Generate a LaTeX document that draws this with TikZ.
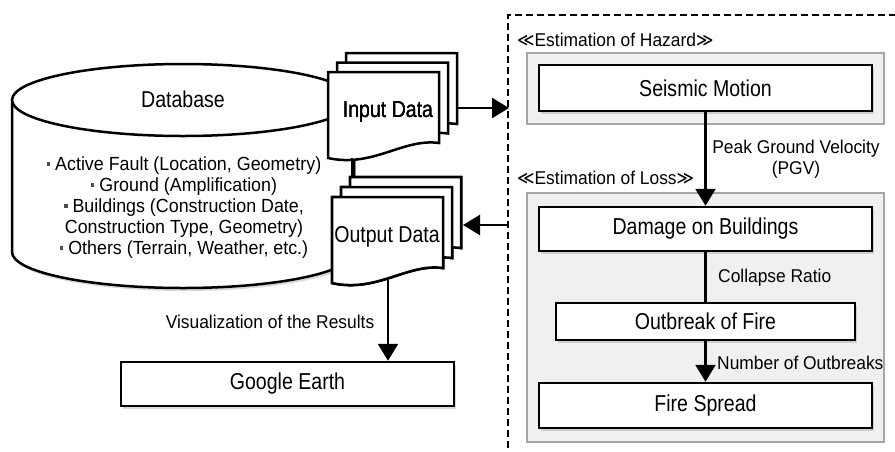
\documentclass[tikz,border=0pt]{standalone}
\usepackage{fontspec}
\setmainfont{Liberation Sans}[FakeStretch=0.85]
\newfontfamily\notefont{Liberation Sans}[FakeStretch=0.94]
\newfontfamily\anglefont{DejaVu Sans}[FakeStretch=0.9]
\usepackage{tikz}
\usetikzlibrary{shadows}
\usetikzlibrary{positioning}
\usetikzlibrary{arrows.meta}
\usetikzlibrary{calc}
\tikzstyle{stepbox}=[rectangle,draw=black,line width=2.5pt,fill=white,inner sep=0pt,font=\fontsize{23}{26}\selectfont,drop shadow={shadow xshift=2pt,shadow yshift=-2.5pt,opacity=0.3}]
\tikzstyle{panel}=[draw=black!35,line width=2pt,fill=black!6]
\tikzstyle{flow}=[draw,line width=2.5pt,-{Triangle[length=17pt,width=20pt]}]
\tikzstyle{plainflow}=[draw,line width=2.5pt]
\tikzstyle{note}=[font=\notefont\fontsize{18.5}{21}\selectfont,inner sep=0pt]
\tikzstyle{docline}=[draw=black,line width=2.5pt,fill=white]
\tikzset{doclabel/.style={font=\fontsize{23}{26}\selectfont,inner sep=0pt}}
% one sheet of a document stack: left x, top y
\newcommand{\docpage}[2]{%
  \path[docline] (#1,#2) -- (#1+111,#2) -- (#1+111,#2+71)
    .. controls (#1+75,#2+66) and (#1+45,#2+96) .. (#1,#2+86) -- cycle;}
\newcommand{\dbdot}{\raisebox{5pt}{\textcolor{black!70}{\rule{3.5pt}{3.5pt}}}}

\begin{document}
\begin{tikzpicture}[x=1pt,y=-1pt]
  \useasboundingbox (0,0) rectangle (895,451);

%database
  \path[docline,drop shadow={shadow xshift=2pt,shadow yshift=-3pt,opacity=0.3}]
     (12,100) -- (12,252) .. controls (12,272) and (89,288) .. (183,288)
     .. controls (277,288) and (354,272) .. (354,252) -- (354,100);
  \path[docline] (183,100) ellipse [x radius=171,y radius=36];
  \node[doclabel] (dbtitle) at (183,99) {Database};
  \node[note,font=\notefont\fontsize{19}{21}\selectfont,align=center] (dbitems) at (184,208) {%
     \dbdot{} Active Fault (Location, Geometry)\\
     \dbdot{} Ground (Amplification)\\
     \dbdot{} Buildings (Construction Date,\\
     Construction Type, Geometry)\\
     \dbdot{} Others (Terrain, Weather, etc.)};

%documents
  \foreach \x/\y in {346/53, 337/62.5, 328/72}
     \docpage{\x}{\y}
  \foreach \x/\y in {350/177, 341/187, 332/197}
     \docpage{\x}{\y}
  \node[doclabel] (input) at (388,112) {Input Data};
  \node[doclabel] (output) at (387,237) {Output Data};

  \coordinate (inB) at (352,158);
  \coordinate (outT) at (352,177);
  \coordinate (inR) at (458,108);
  \coordinate (hazL) at (509,108);
  \coordinate (lossL) at (509,225);
  \coordinate (outR) at (463,225);
  \coordinate (outB) at (388,280);

%frame
  \draw[line width=1.5pt,dash pattern=on 7pt off 4pt] (508,470) -- (508,15) -- (910,15);
  \path[panel] (527,53) rectangle (884,124);
  \path[panel] (527,193) rectangle (884,442);
  \node[note,anchor=west] (hazard) at (517,40) {{\anglefont ≪}Estimation of Hazard{\anglefont ≫}};
  \node[note,anchor=west] (loss) at (517,178) {{\anglefont ≪}Estimation of Loss{\anglefont ≫}};

%boxes
  \foreach \x/\y/\w/\h/\name/\label in {705.5/88/333/46/seismic/Seismic Motion,
        705.5/229/333/44/damage/Damage on Buildings, 705.5/321.5/299/37/outbreak/Outbreak of Fire,
        705.5/405.5/333/45/spread/Fire Spread, 287.5/384/333/44/google/Google Earth}
     \node[stepbox,minimum width=\w pt,minimum height=\h pt] (\name) at (\x,\y) {\label};

%connectors
  \path[plainflow] (inB) -- (outT);
  \path[flow] (inR) -- (hazL);
  \path[flow] (lossL) -- (outR);
  \path[flow] (outB) -- (outB |- google.north);
  \path[flow] (seismic) -- (damage);
  \path[plainflow] (damage) -- (outbreak);
  \path[flow] (outbreak) -- (spread);

%labels
  \node[note,align=center] (pgv) at (796,159) {Peak Ground Velocity\\(PGV)};
  \node[note,anchor=west] (ratio) at (718,278) {Collapse Ratio};
  \node[note,anchor=west] (number) at (717,363) {Number of Outbreaks};
  \node[note] (visual) at (270,322) {Visualization of the Results};

\end{tikzpicture}
\end{document}
